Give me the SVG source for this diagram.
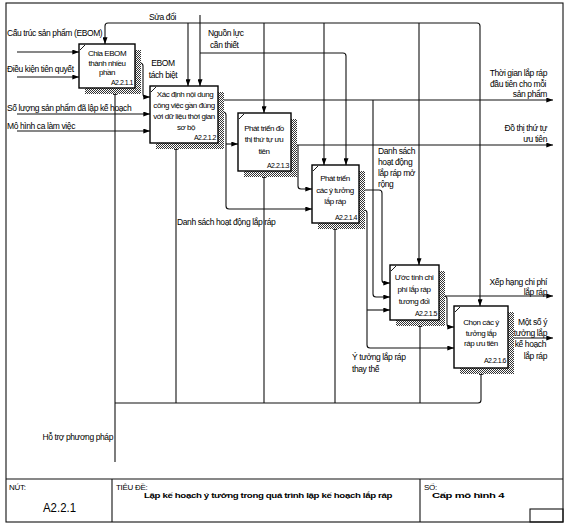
<svg xmlns="http://www.w3.org/2000/svg" width="575" height="526" viewBox="0 0 575 526">
<defs>
<pattern id="hatch" patternUnits="userSpaceOnUse" width="2" height="2">
<rect width="2" height="2" fill="#fff"/>
<rect width="1" height="1" fill="#333"/>
<rect x="1" y="1" width="1" height="1" fill="#333"/>
</pattern>
<marker id="a" viewBox="0 0 8 6" refX="8" refY="3" markerWidth="7" markerHeight="5" markerUnits="userSpaceOnUse" orient="auto">
<path d="M0,0 L8,3 L0,6 z" fill="#000"/>
</marker>
<style>
.ln{fill:none;stroke:#111;stroke-width:1.1}
.ar{marker-end:url(#a)}
.box{fill:#fff;stroke:#000;stroke-width:1.4}
.sh{fill:url(#hatch)}
.mk{stroke:#000;stroke-width:0.9}
.t{font-family:"Liberation Sans",Arial,sans-serif;font-size:8.5px;letter-spacing:-0.4px;fill:#000}
.bt{font-family:"Liberation Sans",Arial,sans-serif;font-size:8px;letter-spacing:-0.45px;fill:#000;text-anchor:middle}
.id{font-family:"Liberation Sans",Arial,sans-serif;font-size:7px;letter-spacing:-0.5px;fill:#000;text-anchor:end}
.e{text-anchor:end}
.tb{font-family:"Liberation Sans",Arial,sans-serif;font-size:8px;fill:#000;letter-spacing:-0.3px}
</style>
</defs>
<rect x="0" y="0" width="575" height="526" fill="#fff"/>
<!-- frame and title block -->
<g id="frame" class="ln">
<rect x="6" y="3" width="557" height="519"/>
<line x1="6" y1="479" x2="563" y2="479"/>
<line x1="112" y1="479" x2="112" y2="522"/>
<line x1="420" y1="479" x2="420" y2="522"/>
<rect x="530" y="509" width="33" height="13"/>
</g>
<g id="titleblock">
<text class="tb" x="9" y="490">NÚT:</text>
<text x="43" y="512" font-family="'Liberation Sans',Arial,sans-serif" font-size="12" fill="#000" textLength="33" lengthAdjust="spacingAndGlyphs">A2.2.1</text>
<text class="tb" x="116" y="490">TIÊU ĐỀ:</text>
<text class="tb" x="268" y="498" text-anchor="middle" font-weight="bold" textLength="248" lengthAdjust="spacingAndGlyphs">Lập kế hoạch ý tưởng trong quá trình lập kế hoạch lắp ráp</text>
<text class="tb" x="424" y="490">SỐ:</text>
<text class="tb" x="432" y="498" font-weight="bold" textLength="72" lengthAdjust="spacingAndGlyphs">Cấp mô hình 4</text>
</g>
<!-- connectors -->
<g id="connectors">
<path class="ln ar" d="M17,52 H79"/>
<path class="ln ar" d="M17,77 H79"/>
<path class="ln ar" d="M17,114 H150"/>
<path class="ln ar" d="M17,131 H150"/>
<!-- Sua doi -->
<path class="ln ar" d="M108,23 Q105,23 105,26 V44"/>
<path class="ln ar" d="M108,23 H477 Q480,23 480,26 V306"/>
<path class="ln ar" d="M188,23 V86"/>
<path class="ln ar" d="M264,23 V113"/>
<path class="ln ar" d="M324,23 V165"/>
<path class="ln ar" d="M419,23 V265"/>
<!-- Nguon luc -->
<path class="ln ar" d="M200,15 V86"/>
<path class="ln ar" d="M200,53 H343 Q346,53 346,56 V165"/>
<!-- box1 output -->
<path class="ln ar" d="M135,63 H140 Q143,63 143,66 V94 Q143,97 146,97 H150"/>
<!-- box2 outputs -->
<path class="ln ar" d="M218,100 H553"/>
<path class="ln ar" d="M373,100 V294 Q373,297 376,297 H390"/>
<path class="ln ar" d="M218,112 H223 Q226,112 226,115 V206 Q226,209 229,209 H312"/>
<path class="ln ar" d="M226,144 H238"/>
<!-- box3 output -->
<path class="ln ar" d="M291,145 H553"/>
<path class="ln ar" d="M298,145 V186 Q298,189 301,189 H312"/>
<!-- box4 outputs -->
<path class="ln ar" d="M359,190 H379 Q382,190 382,193 V280 Q382,283 385,283 H390"/>
<path class="ln ar" d="M359,210 H364 Q367,210 367,213 V345 Q367,348 370,348 H454"/>
<path class="ln ar" d="M367,310 H390"/>
<!-- box5 outputs -->
<path class="ln ar" d="M439,296 H553"/>
<path class="ln ar" d="M444,296 Q447,296 447,299 V324 Q447,327 450,327 H454"/>
<!-- box6 output -->
<path class="ln ar" d="M508,338 H553"/>
<!-- mechanisms -->
<path class="ln ar" d="M115,462 V88"/>
<path class="ln ar" d="M115,403 H478 Q481,403 481,400 V368"/>
<path class="ln ar" d="M176,403 V143"/>
<path class="ln ar" d="M264,403 V171"/>
<path class="ln ar" d="M335,403 V223"/>
<path class="ln ar" d="M420,403 V320"/>
</g>
<!-- connector labels -->
<g id="labels">
<text class="t" x="7" y="36">Cấu trúc sản phẩm (EBOM)</text>
<text class="t" x="7" y="72">Điều kiện tiên quyết</text>
<text class="t" x="7" y="111">Số lượng sản phẩm đã lập kế hoạch</text>
<text class="t" x="7" y="129">Mô hình ca làm việc</text>
<text class="t" x="149" y="20">Sửa đổi</text>
<text class="t" x="208" y="36">Nguồn lực</text>
<text class="t" x="210" y="48">cần thiết</text>
<text class="t" x="163" y="66" text-anchor="middle">EBOM</text>
<text class="t" x="163" y="78" text-anchor="middle">tách biệt</text>
<text class="t e" x="547" y="76">Thời gian lắp ráp</text>
<text class="t e" x="546" y="87">đầu tiên cho mỗi</text>
<text class="t e" x="547" y="97">sản phẩm</text>
<text class="t e" x="547" y="131">Đồ thị thứ tự</text>
<text class="t e" x="547" y="142">ưu tiên</text>
<text class="t" x="177" y="225">Danh sách hoạt động lắp ráp</text>
<text class="t" x="378" y="154">Danh sách</text>
<text class="t" x="378" y="165">hoạt động</text>
<text class="t" x="378" y="176">lắp ráp mở</text>
<text class="t" x="378" y="187">rộng</text>
<text class="t e" x="547" y="285">Xếp hạng chi phí</text>
<text class="t e" x="547" y="295">lắp ráp</text>
<text class="t e" x="547" y="325">Một số ý</text>
<text class="t e" x="547" y="336">tưởng lắp</text>
<text class="t e" x="546" y="347">kế hoạch</text>
<text class="t e" x="547" y="359">lắp ráp</text>
<text class="t" x="352" y="360">Ý tưởng lắp ráp</text>
<text class="t" x="352" y="372">thay thế</text>
<text class="t e" x="113" y="440">Hỗ trợ phương pháp</text>
</g>
<!-- nodes -->
<g id="A2.2.1.1">
<rect class="sh" x="85" y="50" width="56" height="44"/>
<rect class="box" x="79" y="44" width="56" height="44"/>
<line class="mk" x1="80" y1="50" x2="85" y2="45"/>
<text class="bt" x="107" y="56">Chia EBOM</text>
<text class="bt" x="107" y="66">thành nhiều</text>
<text class="bt" x="107" y="75">phần</text>
<text class="id" x="133" y="85">A2.2.1.1</text>
</g>
<g id="A2.2.1.2">
<rect class="sh" x="156" y="92" width="68" height="57"/>
<rect class="box" x="150" y="86" width="68" height="57"/>
<line class="mk" x1="151" y1="92" x2="156" y2="87"/>
<text class="bt" x="185" y="97">Xác định nội dung</text>
<text class="bt" x="184" y="108">công việc gần đúng</text>
<text class="bt" x="184" y="119">với dữ liệu thời gian</text>
<text class="bt" x="186" y="130">sơ bộ</text>
<text class="id" x="216" y="140">A2.2.1.2</text>
</g>
<g id="A2.2.1.3">
<rect class="sh" x="244" y="119" width="53" height="58"/>
<rect class="box" x="238" y="113" width="53" height="58"/>
<line class="mk" x1="239" y1="119" x2="244" y2="114"/>
<text class="bt" x="264" y="131">Phát triển đồ</text>
<text class="bt" x="264" y="142">thị thứ tự ưu</text>
<text class="bt" x="264" y="154">tiên</text>
<text class="id" x="289" y="168">A2.2.1.3</text>
</g>
<g id="A2.2.1.4">
<rect class="sh" x="318" y="171" width="47" height="58"/>
<rect class="box" x="312" y="165" width="47" height="58"/>
<line class="mk" x1="313" y1="171" x2="318" y2="166"/>
<text class="bt" x="335" y="181">Phát triển</text>
<text class="bt" x="335" y="193">các ý tưởng</text>
<text class="bt" x="335" y="204">lắp ráp</text>
<text class="id" x="357" y="220">A2.2.1.4</text>
</g>
<g id="A2.2.1.5">
<rect class="sh" x="396" y="271" width="49" height="55"/>
<rect class="box" x="390" y="265" width="49" height="55"/>
<line class="mk" x1="391" y1="271" x2="396" y2="266"/>
<text class="bt" x="414" y="280">Ước tính chi</text>
<text class="bt" x="414" y="292">phí lắp ráp</text>
<text class="bt" x="414" y="304">tương đối</text>
<text class="id" x="437" y="316">A2.2.1.5</text>
</g>
<g id="A2.2.1.6">
<rect class="sh" x="460" y="312" width="54" height="62"/>
<rect class="box" x="454" y="306" width="54" height="62"/>
<line class="mk" x1="455" y1="312" x2="460" y2="307"/>
<text class="bt" x="481" y="325">Chọn các ý</text>
<text class="bt" x="481" y="336">tưởng lắp</text>
<text class="bt" x="481" y="346">ráp ưu tiên</text>
<text class="id" x="506" y="363">A2.2.1.6</text>
</g>
</svg>
